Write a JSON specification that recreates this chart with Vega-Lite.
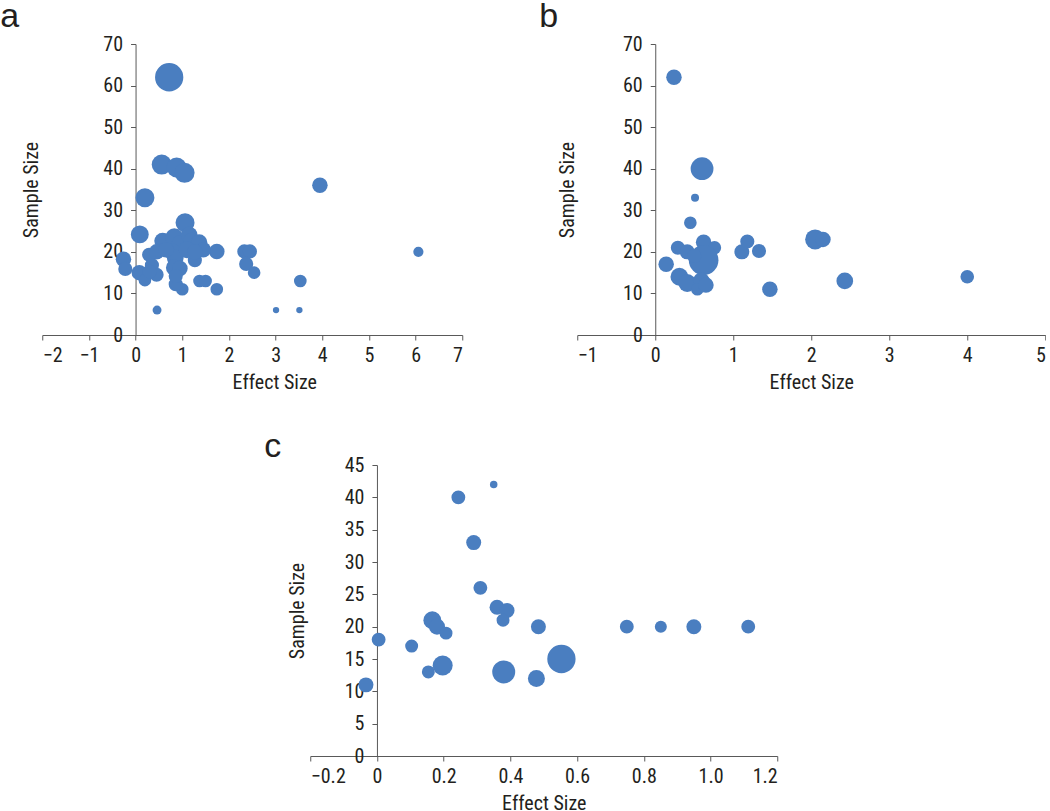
{
  "$schema": "https://vega.github.io/schema/vega-lite/v6.json",
  "padding": {"left": 0, "top": 0, "right": 0, "bottom": 0},
  "background": "white",
  "spacing": 38,
  "center": true,
  "vconcat": [
    {
      "spacing": 76,
      "hconcat": [
        {
          "title": {"text": "a", "dx": -42, "dy": 4},
          "width": 420,
          "height": 291,
          "data": {"values": [
            {"effect": 0.72, "n": 62, "w": 10},
            {"effect": 0.56, "n": 41, "w": 5},
            {"effect": 0.88, "n": 40.3, "w": 5},
            {"effect": 1.05, "n": 39, "w": 5},
            {"effect": 0.2, "n": 33, "w": 4.5},
            {"effect": 3.95, "n": 36, "w": 3},
            {"effect": 0.09, "n": 24.2, "w": 4},
            {"effect": 1.06, "n": 27, "w": 4.5},
            {"effect": 1.74, "n": 20.1, "w": 3},
            {"effect": 6.06, "n": 20, "w": 1.3},
            {"effect": -0.26, "n": 18.2, "w": 3},
            {"effect": -0.22, "n": 15.9, "w": 2.5},
            {"effect": 2.33, "n": 20.1, "w": 2.5},
            {"effect": 2.45, "n": 20.1, "w": 2.5},
            {"effect": 2.37, "n": 17.1, "w": 2.5},
            {"effect": 2.54, "n": 15, "w": 2},
            {"effect": 3.53, "n": 13, "w": 2},
            {"effect": 3.01, "n": 6, "w": 0.5},
            {"effect": 3.51, "n": 6, "w": 0.5},
            {"effect": 0.46, "n": 6, "w": 1},
            {"effect": 1.74, "n": 11, "w": 2},
            {"effect": 1.0, "n": 11, "w": 2},
            {"effect": 0.86, "n": 12.2, "w": 2.5},
            {"effect": 1.37, "n": 13, "w": 2},
            {"effect": 1.5, "n": 13, "w": 2},
            {"effect": 1.27, "n": 18, "w": 2.5},
            {"effect": 0.58, "n": 22.6, "w": 3.5},
            {"effect": 0.29, "n": 19.3, "w": 2.5},
            {"effect": 0.45, "n": 20, "w": 3},
            {"effect": 0.08, "n": 15, "w": 3},
            {"effect": 0.2, "n": 13.2, "w": 2},
            {"effect": 0.45, "n": 14.5, "w": 2.5},
            {"effect": 0.35, "n": 16.8, "w": 2.5},
            {"effect": 0.3, "n": 15.2, "w": 2.5},
            {"effect": 0.83, "n": 23.5, "w": 4},
            {"effect": 0.95, "n": 22, "w": 3.5},
            {"effect": 1.15, "n": 24, "w": 3.5},
            {"effect": 1.2, "n": 22.6, "w": 3.5},
            {"effect": 1.36, "n": 22.2, "w": 3.5},
            {"effect": 1.45, "n": 20.5, "w": 3},
            {"effect": 0.79, "n": 20, "w": 3.5},
            {"effect": 0.85, "n": 18.5, "w": 3.5},
            {"effect": 0.83, "n": 16.2, "w": 3.5},
            {"effect": 0.95, "n": 16, "w": 3},
            {"effect": 0.86, "n": 14.2, "w": 2.5},
            {"effect": 1.1, "n": 20.5, "w": 3.5},
            {"effect": 1.27, "n": 20, "w": 3},
            {"effect": 0.65, "n": 20.5, "w": 3}
          ]},
          "mark": {"type": "circle", "opacity": 1, "color": "#4a7ec0"},
          "encoding": {
            "x": {"field": "effect", "type": "quantitative", "scale": {"domain": [-2, 7], "nice": false, "zero": false},
              "axis": {"title": "Effect Size", "values": [-2, -1, 0, 1, 2, 3, 4, 5, 6, 7], "titleX": 232}},
            "y": {"field": "n", "type": "quantitative", "scale": {"domain": [0, 70], "nice": false},
              "axis": {"title": "Sample Size", "values": [0, 10, 20, 30, 40, 50, 60, 70], "offset": -93.3, "titleX": -98, "titleY": 145.5}},
            "size": {"field": "w", "type": "quantitative", "scale": {"type": "linear", "domain": [0, 10], "range": [0, 800]}, "legend": null}
          }
        },
        {
          "title": {"text": "b", "dx": -38, "dy": 4},
          "width": 468,
          "height": 291,
          "data": {"values": [
            {"effect": 0.24, "n": 62, "w": 3},
            {"effect": 0.6, "n": 40, "w": 6.5},
            {"effect": 0.51, "n": 33, "w": 0.8},
            {"effect": 0.45, "n": 27, "w": 2},
            {"effect": 0.29, "n": 21, "w": 2.5},
            {"effect": 0.14, "n": 17, "w": 3},
            {"effect": 0.62, "n": 22.3, "w": 3},
            {"effect": 0.76, "n": 21, "w": 2.2},
            {"effect": 0.62, "n": 18, "w": 11},
            {"effect": 0.41, "n": 20, "w": 2.8},
            {"effect": 0.5, "n": 19, "w": 2.5},
            {"effect": 0.31, "n": 14, "w": 4},
            {"effect": 0.41, "n": 12.5, "w": 4},
            {"effect": 0.59, "n": 13, "w": 3.5},
            {"effect": 0.54, "n": 11, "w": 2},
            {"effect": 0.65, "n": 12, "w": 3},
            {"effect": 1.11, "n": 20, "w": 2.8},
            {"effect": 1.18, "n": 22.5, "w": 2.5},
            {"effect": 1.33, "n": 20.2, "w": 2.5},
            {"effect": 1.47, "n": 11, "w": 3},
            {"effect": 2.05, "n": 23, "w": 5},
            {"effect": 2.15, "n": 23, "w": 3},
            {"effect": 2.43, "n": 13, "w": 3.5},
            {"effect": 4.0, "n": 14, "w": 2.3}
          ]},
          "mark": {"type": "circle", "opacity": 1, "color": "#4a7ec0"},
          "encoding": {
            "x": {"field": "effect", "type": "quantitative", "scale": {"domain": [-1, 5], "nice": false, "zero": false},
              "axis": {"title": "Effect Size", "values": [-1, 0, 1, 2, 3, 4, 5]}},
            "y": {"field": "n", "type": "quantitative", "scale": {"domain": [0, 70], "nice": false},
              "axis": {"title": "Sample Size", "values": [0, 10, 20, 30, 40, 50, 60, 70], "offset": -78, "titleX": -82, "titleY": 145.5}},
            "size": {"field": "w", "type": "quantitative", "scale": {"type": "linear", "domain": [0, 10], "range": [0, 800]}, "legend": null}
          }
        }
      ]
    },
    {
      "title": {"text": "c", "dx": -46, "dy": 13},
      "width": 467,
      "height": 291,
      "data": {"values": [
        {"effect": 0.35, "n": 42, "w": 0.7},
        {"effect": 0.244, "n": 40, "w": 2.4},
        {"effect": 0.29, "n": 33, "w": 2.8},
        {"effect": 0.31, "n": 26, "w": 2.4},
        {"effect": 0.36, "n": 23, "w": 2.8},
        {"effect": 0.39, "n": 22.5, "w": 2.8},
        {"effect": 0.378, "n": 21, "w": 2.1},
        {"effect": 0.484, "n": 20, "w": 2.8},
        {"effect": 0.749, "n": 20, "w": 2.4},
        {"effect": 0.851, "n": 20, "w": 1.8},
        {"effect": 0.95, "n": 20, "w": 2.8},
        {"effect": 1.113, "n": 20, "w": 2.4},
        {"effect": 0.005, "n": 18, "w": 2.4},
        {"effect": 0.104, "n": 17, "w": 2.1},
        {"effect": 0.166, "n": 21, "w": 4},
        {"effect": 0.18, "n": 20, "w": 3.2},
        {"effect": 0.207, "n": 19, "w": 2.1},
        {"effect": 0.154, "n": 13, "w": 2.1},
        {"effect": 0.197, "n": 14, "w": 5},
        {"effect": -0.033, "n": 11, "w": 2.8},
        {"effect": 0.38, "n": 13, "w": 6.6},
        {"effect": 0.478, "n": 12, "w": 3.6},
        {"effect": 0.553, "n": 15, "w": 10}
      ]},
      "mark": {"type": "circle", "opacity": 1, "color": "#4a7ec0"},
      "encoding": {
        "x": {"field": "effect", "type": "quantitative", "scale": {"domain": [-0.2, 1.2], "nice": false, "zero": false},
          "axis": {"title": "Effect Size", "values": [-0.2, 0, 0.2, 0.4, 0.6, 0.8, 1.0, 1.2], "labelExpr": "datum.value == 0 ? '0' : format(datum.value, '.1f')"}},
        "y": {"field": "n", "type": "quantitative", "scale": {"domain": [0, 45], "nice": false},
          "axis": {"title": "Sample Size", "values": [0, 5, 10, 15, 20, 25, 30, 35, 40, 45], "offset": -66.7, "titleX": -73, "titleY": 145.5}},
        "size": {"field": "w", "type": "quantitative", "scale": {"type": "linear", "domain": [0, 10], "range": [0, 800]}, "legend": null}
      }
    }
  ],
  "config": {
    "view": {"stroke": null},
    "axis": {
      "grid": false,
      "labelFont": "Roboto Condensed, DejaVu Sans Condensed, sans-serif",
      "titleFont": "Roboto Condensed, DejaVu Sans Condensed, sans-serif",
      "labelFontSize": 20,
      "titleFontSize": 20,
      "labelColor": "#231f20",
      "titleColor": "#231f20",
      "titleFontWeight": "normal",
      "domainColor": "#595959",
      "tickColor": "#595959",
      "tickSize": 5,
      "labelPadding": 5
    },
    "axisY": {"titleAngle": -90, "titleAlign": "center", "titleBaseline": "alphabetic", "labelPadding": 8},
    "axisX": {"titlePadding": 7},
    "title": {"font": "Liberation Sans", "fontSize": 34, "fontWeight": "normal", "anchor": "start", "frame": "group", "color": "#231f20"}
  }
}
